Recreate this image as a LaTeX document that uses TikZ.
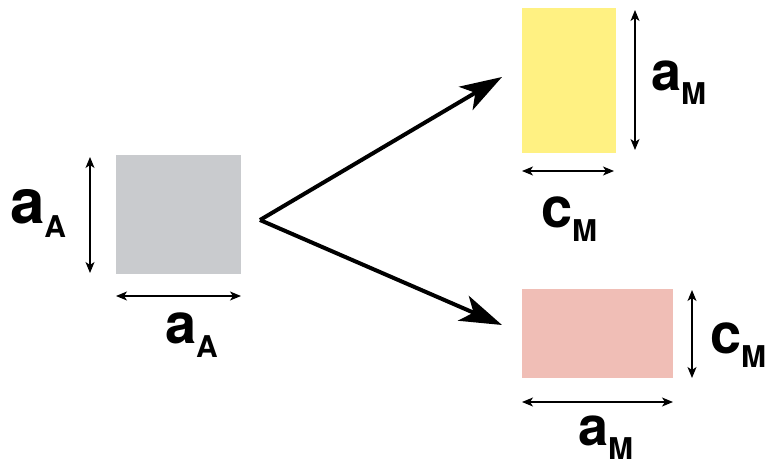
\documentclass[tikz,border=0pt]{standalone}
\usepackage{fontspec}
\setmainfont{TeX Gyre Heros}
\usetikzlibrary{arrows.meta}
\definecolor{grayA}{RGB}{201,203,206}
\definecolor{yellowM}{RGB}{255,241,130}
\definecolor{pinkM}{RGB}{240,190,182}
\newcommand{\lbl}[3]{{\bfseries\fontsize{#1}{#1}\selectfont #2\raisebox{-14pt}{\fontsize{30}{30}\selectfont #3}}}
\tikzset{
  box/.style={draw=none, inner sep=0pt, outer sep=0pt, anchor=north west},
  dim/.style={line width=1.4pt, {Stealth[length=11pt,width=9pt,inset=3pt]}-{Stealth[length=11pt,width=9pt,inset=3pt]}},
  big/.style={line width=4pt, line join=miter, -{Stealth[length=42pt,width=27pt,inset=11pt]}},
  lab/.style={inner sep=0pt, outer sep=0pt, anchor=base west}
}
\begin{document}
\begin{tikzpicture}[x=1pt,y=-1pt]
\useasboundingbox (0,0) rectangle (784,466);
% shapes
\node[box, fill=grayA, minimum width=125pt, minimum height=119pt] (A) at (116,155) {};
\node[box, fill=yellowM, minimum width=94pt, minimum height=145pt] (Y) at (522,8) {};
\node[box, fill=pinkM, minimum width=151pt, minimum height=89pt] (P) at (522,289) {};
% transformation arrows
\coordinate (v) at (260,220);
\coordinate (tY) at (502,77);
\coordinate (tP) at (502,325);
\draw[big] (v) -- (tY);
\draw[big] (v) -- (tP);
% dimension arrows
\draw[dim] ([xshift=-26pt,yshift=-2pt]A.north west) -- ([xshift=-26pt,yshift=1pt]A.south west);
\draw[dim] ([yshift=-22pt]A.south west) -- ([yshift=-22pt]A.south east);
\draw[dim] ([xshift=19pt,yshift=-2pt]Y.north east) -- ([xshift=19pt,yshift=3pt]Y.south east);
\draw[dim] ([yshift=-18pt]Y.south west) -- ([xshift=-2pt,yshift=-18pt]Y.south east);
\draw[dim] ([xshift=19pt,yshift=-1pt]P.north east) -- ([xshift=19pt]P.south east);
\draw[dim] ([yshift=-24pt]P.south west) -- ([yshift=-24pt]P.south east);
% labels
\node[lab] (lA1) at (10,223) {\lbl{62}{a}{A}};
\node[lab] (lA2) at (165,343) {\lbl{56}{a}{A}};
\node[lab] (lM1) at (651,90) {\lbl{54}{a}{M}};
\node[lab] (lM2) at (541,227) {\lbl{56}{c}{M}};
\node[lab] (lM3) at (710,353) {\lbl{56}{c}{M}};
\node[lab] (lM4) at (578,445) {\lbl{54}{a}{M}};
\end{tikzpicture}
\end{document}
